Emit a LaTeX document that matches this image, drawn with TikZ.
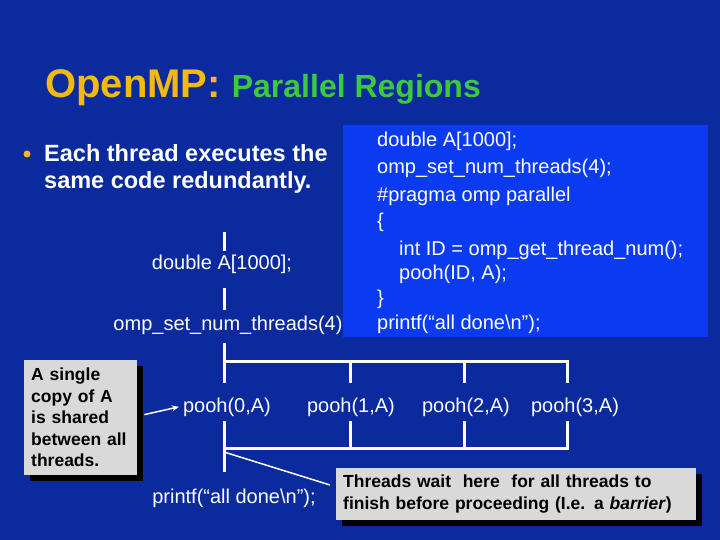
\documentclass[tikz,border=0pt]{standalone}
\usepackage{fontspec}
\setmainfont{Liberation Sans}
\usetikzlibrary{arrows.meta,positioning,shadows}
\definecolor{SlideBlue}  {HTML}{0A2A9E}
\definecolor{CodeBlue}   {HTML}{0B3BF0}
\definecolor{TitleGold}  {HTML}{F2B90F}
\definecolor{TitleGreen} {HTML}{3DC83D}
\definecolor{NoteGrey}   {HTML}{D9D9D9}
\tikzset{
  codeline/.style={anchor=base west,inner sep=0pt,text=white,font=\fontsize{20}{24}\selectfont},
  flowtext/.style={anchor=base,inner sep=0pt,text=white,font=\fontsize{20}{24}\selectfont},
  thread/.style={white,line width=3pt},
  notebox/.style={anchor=north west,fill=NoteGrey,text=black,align=left,
    inner xsep=7pt,inner ysep=8pt,font=\bfseries\fontsize{17.5}{21.5}\selectfont,
    drop shadow={fill=black,opacity=1,shadow xshift=6pt,shadow yshift=-6pt}},
}

\begin{document}
\begin{tikzpicture}[x=1pt,y=-1pt]
    \useasboundingbox[fill=SlideBlue] (0,0) rectangle (720,540);
    % title
    \node[anchor=base west,inner sep=0pt] (title) at (45,98)
      {\bfseries\fontsize{40}{44}\selectfont\color{TitleGold}OpenMP:
       \fontsize{32}{36}\selectfont\color{TitleGreen}Parallel Regions};
    % bullet
    \node[circle,fill=TitleGold,minimum size=7pt,inner sep=0pt] (bullet) at (27,154) {};
    \node[anchor=base west,inner sep=0pt,text=white,align=left,
          font=\bfseries\fontsize{23.5}{27}\selectfont] (point) at (44,189)
      {Each thread executes the\\same code redundantly.};
    % code listing
    \node[anchor=north west,fill=CodeBlue,minimum width=365pt,minimum height=212pt,
          inner sep=0pt] (codebox) at (343,125) {};
    \node[codeline] (c1) at (377,147) {double A[1000];};
    \node[codeline] (c2) at (377,174) {omp\_set\_num\_threads(4);};
    \node[codeline] (c3) at (377,202) {\#pragma omp parallel};
    \node[codeline] (c4) at (377,228) {\{};
    \node[codeline] (c5) at (399,255) {int ID = omp\_get\_thread\_num();};
    \node[codeline] (c6) at (399,279) {pooh(ID, A);};
    \node[codeline] (c7) at (377,304) {\}};
    \node[codeline] (c8) at (377,329) {printf(“all done\textbackslash n”);};
    % serial part
    \coordinate (start) at (224,232);
    \node[flowtext] (decl) at (222,269) {double A[1000];};
    \node[flowtext] (setn) at (228,330) {omp\_set\_num\_threads(4)};
    \draw[thread] (start) -- ([yshift=18pt]decl.base -| start);
    \draw[thread] ([yshift=-19pt]decl.base -| start) -- ([yshift=20pt]setn.base -| start);
    % parallel region
    \foreach \i/\x in {0/224,1/350,2/464,3/567}{
      \coordinate (f\i) at (\x,361);
      \coordinate (t\i) at (\x,383);
      \coordinate (b\i) at (\x,421);
      \coordinate (j\i) at (\x,448);
    }
    \coordinate (e0) at (224,472);
    \node[flowtext] (pooh0) at (227,412) {pooh(0,A)};
    \node[flowtext] (pooh1) at (351,412) {pooh(1,A)};
    \node[flowtext] (pooh2) at (466,412) {pooh(2,A)};
    \node[flowtext] (pooh3) at (575,412) {pooh(3,A)};
    \draw[thread] ([yshift=-13pt]setn.base -| f0) -- (f0) -- (f3) -- (t3);
    \draw[thread] (f0) -- (t0);
    \draw[thread] (f1) -- (t1);
    \draw[thread] (f2) -- (t2);
    \draw[thread] (b3) -- (j3) -- (j0);
    \draw[thread] (b0) -- (e0);
    \draw[thread] (b1) -- (j1);
    \draw[thread] (b2) -- (j2);
    \node[flowtext] (done) at (234,503) {printf(“all done\textbackslash n”);};
    % notes
    \node[notebox,text width=99pt] (sharednote) at (24,360)
      {A single\\copy of A\\is shared\\between all\\threads.};
    \node[notebox,text width=346pt,inner ysep=7pt] (barriernote) at (336,468)
      {Threads wait\ \ here\ \ for all threads to\\finish before proceeding (I.e. a \textit{barrier})};
    \draw[white,line width=1.5pt,-{Stealth[length=7pt,width=6pt]}]
      ([xshift=7pt,yshift=3pt]sharednote.east) -- ([xshift=-4pt]pooh0.west);
    \draw[white,line width=1.5pt] ([yshift=-4pt]j0) -- ([xshift=-6pt,yshift=-17pt]barriernote.north west);
  \end{tikzpicture}
\end{document}
